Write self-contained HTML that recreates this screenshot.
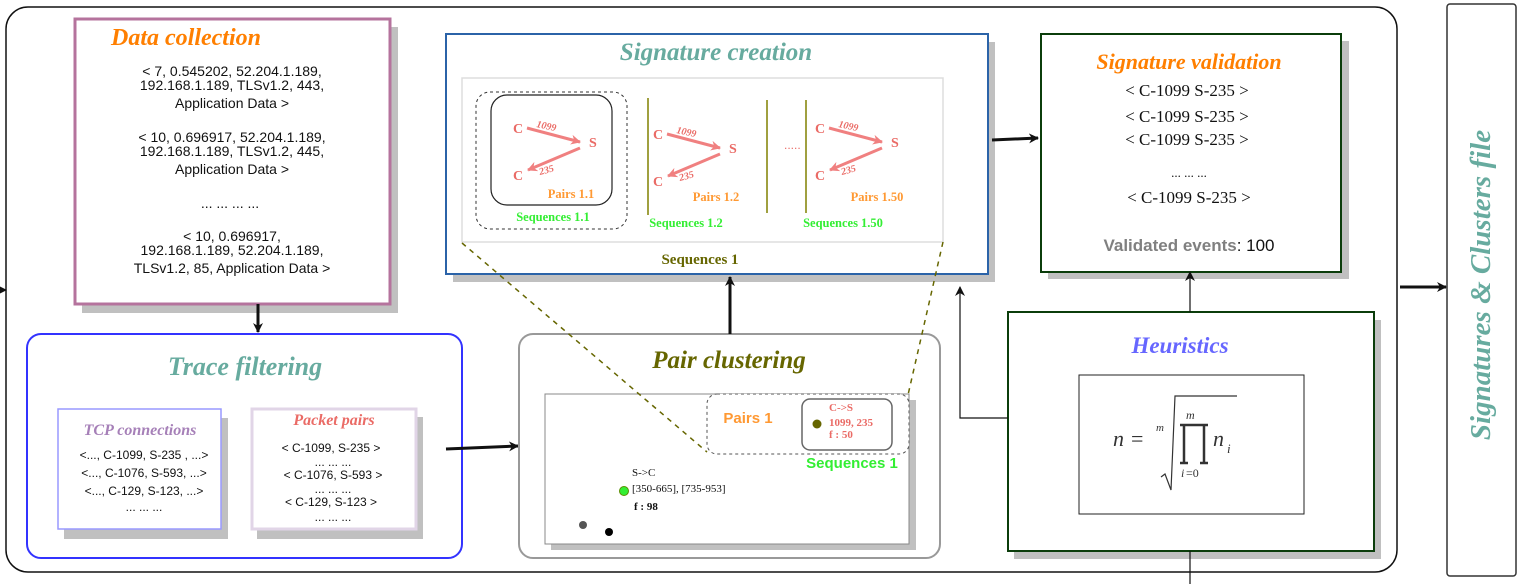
<!DOCTYPE html>
<html><head><meta charset="utf-8"><style>
html,body{margin:0;padding:0;background:#fff;}
svg{display:block;}
.s{font-family:"Liberation Sans",sans-serif;}
.r{font-family:"Liberation Serif",serif;}
</style></head><body>
<svg width="1524" height="584" viewBox="0 0 1524 584" xmlns="http://www.w3.org/2000/svg">
<defs>
<marker id="ah" markerWidth="10" markerHeight="10" refX="9" refY="5" orient="auto" markerUnits="userSpaceOnUse"><path d="M0,0 L10,5 L0,10 L3,5 z" fill="#111"/></marker>
<marker id="ahp" markerWidth="10" markerHeight="10" refX="9" refY="5" orient="auto" markerUnits="userSpaceOnUse"><path d="M0,0 L10,5 L0,10 L3,5 z" fill="#f08080"/></marker>
</defs>
<rect x="6" y="7" width="1391" height="565" rx="22" fill="#fff" stroke="#111" stroke-width="1.5"/>
<line x1="0" y1="290" x2="6" y2="290" stroke="#111" stroke-width="1.5" marker-end="url(#ah)"/>
<rect x="1447" y="4" width="69" height="572" rx="3" fill="#fff" stroke="#333" stroke-width="1.5"/>
<text transform="translate(1490,285) rotate(-90)" text-anchor="middle" class="r" font-style="italic" font-weight="bold" font-size="29" fill="#67ab9f">Signatures &amp; Clusters file</text>
<line x1="1400" y1="287" x2="1446" y2="287" stroke="#111" stroke-width="3" marker-end="url(#ah)"/>

<rect x="82" y="27" width="316" height="286" fill="#c0c0c0"/>
<rect x="75" y="19" width="315" height="285" fill="#fff" stroke="#b5739d" stroke-width="3"/>
<text x="186" y="45" text-anchor="middle" class="r" font-style="italic" font-weight="bold" font-size="24" fill="#ff7f00">Data collection</text>
<g class="s" font-size="14" fill="#111" text-anchor="middle">
<text x="232" y="76">&lt; 7, 0.545202, 52.204.1.189,</text>
<text x="232" y="90">192.168.1.189, TLSv1.2, 443,</text>
<text x="232" y="108">Application Data &gt;</text>
<text x="232" y="142">&lt; 10, 0.696917, 52.204.1.189,</text>
<text x="232" y="156">192.168.1.189, TLSv1.2, 445,</text>
<text x="232" y="174">Application Data &gt;</text>
<text x="230" y="208">... ... ... ...</text>
<text x="232" y="241">&lt; 10, 0.696917,</text>
<text x="232" y="255">192.168.1.189, 52.204.1.189,</text>
<text x="232" y="273">TLSv1.2, 85, Application Data &gt;</text>
</g>
<line x1="258" y1="304" x2="258" y2="332" stroke="#111" stroke-width="3" marker-end="url(#ah)"/>

<rect x="27" y="334" width="435" height="224" rx="14" fill="#fff" stroke="#3333ff" stroke-width="2"/>
<text x="245" y="375" text-anchor="middle" class="r" font-style="italic" font-weight="bold" font-size="26" fill="#67ab9f">Trace filtering</text>
<rect x="64" y="418" width="164" height="121" fill="#c0c0c0"/>
<rect x="58" y="409" width="163" height="120" fill="#fff" stroke="#9999ff" stroke-width="1.5"/>
<text x="140" y="435" text-anchor="middle" class="r" font-style="italic" font-weight="bold" font-size="16" fill="#a680b8">TCP connections</text>
<g class="s" font-size="12" fill="#111" text-anchor="middle">
<text x="144" y="459">&lt;..., C-1099, S-235 , ...&gt;</text>
<text x="144" y="477">&lt;..., C-1076, S-593, ...&gt;</text>
<text x="144" y="495">&lt;..., C-129, S-123, ...&gt;</text>
<text x="144" y="511">... ... ...</text>
</g>
<rect x="257" y="417" width="166" height="122" fill="#c0c0c0"/>
<rect x="252" y="409" width="164" height="120" fill="#fff" stroke="#e1d5e7" stroke-width="3"/>
<text x="334" y="425" text-anchor="middle" class="r" font-style="italic" font-weight="bold" font-size="16" fill="#ea6b66">Packet pairs</text>
<g class="s" font-size="12" fill="#111" text-anchor="middle">
<text x="331" y="452">&lt; C-1099, S-235 &gt;</text>
<text x="333" y="466">... ... ...</text>
<text x="333" y="479">&lt; C-1076, S-593 &gt;</text>
<text x="333" y="493">... ... ...</text>
<text x="331" y="506">&lt; C-129, S-123 &gt;</text>
<text x="333" y="521">... ... ...</text>
</g>
<line x1="446" y1="449" x2="518" y2="446" stroke="#111" stroke-width="3" marker-end="url(#ah)"/>

<rect x="519" y="334" width="421" height="224" rx="14" fill="#fff" stroke="#999" stroke-width="2"/>
<text x="729" y="368" text-anchor="middle" class="r" font-style="italic" font-weight="bold" font-size="25" fill="#666600">Pair clustering</text>
<rect x="551" y="400" width="365" height="150" fill="#c0c0c0"/>
<rect x="545" y="394" width="364" height="150" fill="#fff" stroke="#888" stroke-width="1"/>
<rect x="707" y="394" width="202" height="60" rx="10" fill="#fff" stroke="#555" stroke-dasharray="3,3"/>
<text x="748" y="423" text-anchor="middle" class="s" font-weight="bold" font-size="15" fill="#ff9933">Pairs 1</text>
<rect x="802" y="399" width="90" height="51" rx="8" fill="#fff" stroke="#666" stroke-width="1.5"/>
<circle cx="817" cy="424" r="4.5" fill="#666600"/>
<g class="r" font-weight="bold" font-size="11" fill="#ea6b66">
<text x="829" y="411">C-&gt;S</text>
<text x="829" y="426">1099,  235</text>
<text x="829" y="438">f : 50</text>
</g>
<text x="852" y="468" text-anchor="middle" class="s" font-weight="bold" font-size="15" fill="#33ee33">Sequences 1</text>
<circle cx="624" cy="491" r="4.5" fill="#33ee33" stroke="#5a8f00"/>
<g class="r" font-size="11" fill="#111">
<text x="632" y="476">S-&gt;C</text>
<text x="632" y="492">[350-665], [735-953]</text>
<text x="634" y="510" font-weight="bold">f : 98</text>
</g>
<circle cx="583" cy="525" r="4" fill="#555"/>
<circle cx="609" cy="532" r="4" fill="#000"/>

<rect x="453" y="42" width="542" height="240" fill="#c0c0c0"/>
<rect x="446" y="34" width="542" height="240" fill="#fff" stroke="#2b63a8" stroke-width="2"/>
<text x="716" y="60" text-anchor="middle" class="r" font-style="italic" font-weight="bold" font-size="25" fill="#67ab9f">Signature creation</text>
<rect x="462" y="78" width="481" height="164" fill="#fff" stroke="#ddd" stroke-width="1.5"/>
<rect x="476" y="92" width="151" height="137" rx="14" fill="none" stroke="#333" stroke-dasharray="3,3"/>
<rect x="491" y="95" width="121" height="110" rx="16" fill="none" stroke="#222" stroke-width="1.2"/>
<line x1="648" y1="98" x2="648" y2="215" stroke="#808000" stroke-width="1.5"/>
<line x1="767" y1="100" x2="767" y2="213" stroke="#808000" stroke-width="1.5"/>
<line x1="806" y1="100" x2="806" y2="213" stroke="#808000" stroke-width="1.5"/>
<text x="784" y="149" class="s" font-size="12" fill="#ea6b66">.....</text>
<g class="r" font-weight="bold" fill="#ea6b66">
 <g>
  <text x="513" y="133" font-size="14">C</text><text x="589" y="147" font-size="14">S</text><text x="513" y="180" font-size="14">C</text>
  <text x="536" y="127" font-size="10" font-style="italic" transform="rotate(12 536 127)">1099</text>
  <text x="540" y="175" font-size="10" font-style="italic" transform="rotate(-15 540 175)">235</text>
  <line x1="527" y1="128" x2="580" y2="142" stroke="#f08080" stroke-width="3" marker-end="url(#ahp)"/>
  <line x1="580" y1="148" x2="528" y2="170" stroke="#f08080" stroke-width="3" marker-end="url(#ahp)"/>
 </g>
 <g transform="translate(140,6)">
  <text x="513" y="133" font-size="14">C</text><text x="589" y="147" font-size="14">S</text><text x="513" y="180" font-size="14">C</text>
  <text x="536" y="127" font-size="10" font-style="italic" transform="rotate(12 536 127)">1099</text>
  <text x="540" y="175" font-size="10" font-style="italic" transform="rotate(-15 540 175)">235</text>
  <line x1="527" y1="128" x2="580" y2="142" stroke="#f08080" stroke-width="3" marker-end="url(#ahp)"/>
  <line x1="580" y1="148" x2="528" y2="170" stroke="#f08080" stroke-width="3" marker-end="url(#ahp)"/>
 </g>
 <g transform="translate(302,0)">
  <text x="513" y="133" font-size="14">C</text><text x="589" y="147" font-size="14">S</text><text x="513" y="180" font-size="14">C</text>
  <text x="536" y="127" font-size="10" font-style="italic" transform="rotate(12 536 127)">1099</text>
  <text x="540" y="175" font-size="10" font-style="italic" transform="rotate(-15 540 175)">235</text>
  <line x1="527" y1="128" x2="580" y2="142" stroke="#f08080" stroke-width="3" marker-end="url(#ahp)"/>
  <line x1="580" y1="148" x2="528" y2="170" stroke="#f08080" stroke-width="3" marker-end="url(#ahp)"/>
 </g>
</g>
<g class="r" font-weight="bold" font-size="12.5">
<text x="571" y="198" text-anchor="middle" fill="#ff9933">Pairs 1.1</text>
<text x="716" y="201" text-anchor="middle" fill="#ff9933">Pairs 1.2</text>
<text x="877" y="201" text-anchor="middle" fill="#ff9933">Pairs 1.50</text>
<text x="553" y="221" text-anchor="middle" fill="#33ee33">Sequences 1.1</text>
<text x="686" y="227" text-anchor="middle" fill="#33ee33">Sequences 1.2</text>
<text x="843" y="227" text-anchor="middle" fill="#33ee33">Sequences 1.50</text>
<text x="700" y="264" text-anchor="middle" fill="#666600" font-size="15">Sequences 1</text>
</g>
<line x1="730" y1="334" x2="730" y2="277" stroke="#111" stroke-width="3" marker-end="url(#ah)"/>

<line x1="462" y1="243" x2="707" y2="452" stroke="#666600" stroke-width="1.5" stroke-dasharray="5,5"/>
<line x1="943" y1="242" x2="908" y2="395" stroke="#666600" stroke-width="1.5" stroke-dasharray="5,5"/>

<rect x="1048" y="41" width="301" height="238" fill="#c0c0c0"/>
<rect x="1041" y="34" width="300" height="238" fill="#fff" stroke="#0b3d0b" stroke-width="2"/>
<text x="1189" y="69" text-anchor="middle" class="r" font-style="italic" font-weight="bold" font-size="22" fill="#ff7f00">Signature validation</text>
<g class="r" font-size="17" fill="#111" text-anchor="middle">
<text x="1187" y="96">&lt; C-1099 S-235 &gt;</text>
<text x="1187" y="122">&lt; C-1099 S-235 &gt;</text>
<text x="1187" y="145">&lt; C-1099 S-235 &gt;</text>
<text x="1189" y="177" font-size="13">... ... ...</text>
<text x="1189" y="203">&lt; C-1099 S-235 &gt;</text>
</g>
<text x="1189" y="251" text-anchor="middle" class="s" font-size="17"><tspan fill="#808080" font-weight="bold">Validated events</tspan><tspan fill="#111">: 100</tspan></text>
<line x1="992" y1="140" x2="1038" y2="138" stroke="#111" stroke-width="3" marker-end="url(#ah)"/>

<rect x="1014" y="320" width="367" height="239" fill="#c0c0c0"/>
<rect x="1008" y="312" width="366" height="239" fill="#fff" stroke="#0b3d0b" stroke-width="2"/>
<text x="1180" y="353" text-anchor="middle" class="r" font-style="italic" font-weight="bold" font-size="23" fill="#6666ff">Heuristics</text>
<rect x="1079" y="375" width="225" height="139" fill="#fff" stroke="#222" stroke-width="1"/>
<g class="r" fill="#333">
<text x="1113" y="446" font-size="22" font-style="italic">n</text>
<text x="1131" y="446" font-size="22">=</text>
<text x="1156" y="431" font-size="11" font-style="italic">m</text>
<path d="M1161,477 L1165,474 L1171,490 L1175,396 L1237,396" fill="none" stroke="#333" stroke-width="1.2"/>
<text x="1186" y="419" font-size="12" font-style="italic">m</text>
<path d="M1180,425 h28 M1184,425 v38 M1204,425 v38 M1180,463 h8 M1200,463 h8" stroke="#333" stroke-width="2.5" fill="none"/>
<text x="1181" y="477" font-size="12" font-style="italic">i</text><text x="1186" y="477" font-size="12">=0</text>
<text x="1213" y="446" font-size="22" font-style="italic">n</text>
<text x="1227" y="453" font-size="13" font-style="italic">i</text>
</g>
<polyline points="1008,418 960,418 960,287" fill="none" stroke="#111" stroke-width="1.2" marker-end="url(#ah)"/>
<line x1="1190" y1="312" x2="1190" y2="272" stroke="#111" stroke-width="1.2" marker-end="url(#ah)"/>
<line x1="1190" y1="551" x2="1190" y2="584" stroke="#111" stroke-width="1.2"/>
</svg>
</body></html>
